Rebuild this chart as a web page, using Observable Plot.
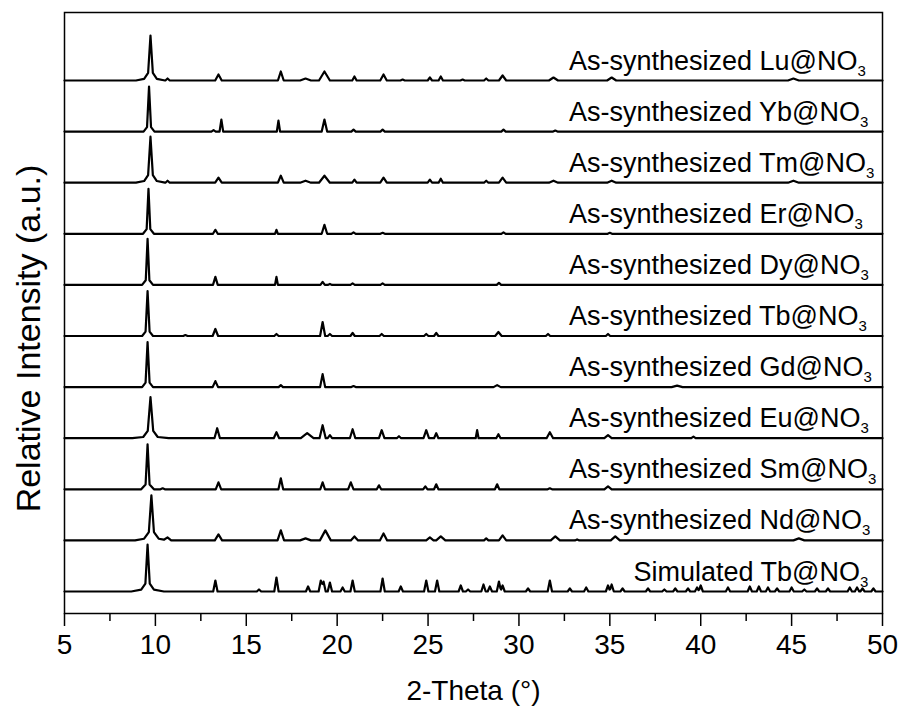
<!DOCTYPE html>
<html><head><meta charset="utf-8">
<script src="https://cdn.jsdelivr.net/npm/d3@7"></script>
<script src="https://cdn.jsdelivr.net/npm/@observablehq/plot@0.6"></script>
<style>body{margin:0;background:#fff}</style>
</head><body><div id="chart"></div>
<script>
// 2-Theta tick values
const majorTicks = [5,10,15,20,25,30,35,40,45,50];
const minorTicks = [7.5,12.5,17.5,22.5,27.5,32.5,37.5,42.5,47.5];

// sample names, bottom to top
const sampleNames = [
  "Simulated Tb@NO", "As-synthesized Nd@NO", "As-synthesized Sm@NO", "As-synthesized Eu@NO",
  "As-synthesized Gd@NO", "As-synthesized Tb@NO", "As-synthesized Dy@NO", "As-synthesized Er@NO",
  "As-synthesized Tm@NO", "As-synthesized Yb@NO", "As-synthesized Lu@NO"
];

// peaks: [2theta, relative height, half width]
const peaksSim = [[9.57,36,0.12],[9.57,8,0.35],[9.57,3,0.9],[13.3,11],[15.7,2],[16.66,14],[18.4,5],[19.1,11],[19.25,10],[19.6,9],[20.3,4],[20.85,11],[22.5,13],[23.5,5],[24.9,11],[25.5,11],[26.8,6],[27.2,2],[28.05,7],[28.4,5],[28.9,10],[29.1,6],[30.5,3],[31.7,11],[32.8,3],[33.7,4],[34.9,6],[35.1,7],[35.7,3],[37.1,3],[38.0,2],[38.6,3],[39.3,3],[39.8,4],[40.0,6],[41.5,4],[42.7,5],[43.2,5],[43.7,4],[44.2,3],[45.0,4],[45.7,2],[46.4,3],[47.0,3],[48.2,4],[48.6,4],[48.9,3],[49.5,3]];
const peaksNd = [[9.78,33,0.14],[9.78,9,0.4],[9.78,3,0.9],[10.67,3,0.2],[13.47,6,0.2],[16.9,10,0.18],[18.26,2,0.3],[19.35,10,0.3],[20.95,4,0.2],[22.55,7,0.2],[25.1,3,0.2],[25.7,4,0.25],[28.2,2],[29.1,5,0.2],[32.0,4,0.25],[33.2,1],[35.3,4,0.25],[45.4,2,0.3]];
const peaksSm = [[9.57,38,0.11],[9.57,7,0.35],[10.4,1],[13.47,7,0.15],[16.9,11,0.13],[19.2,7,0.13],[20.75,7,0.15],[22.3,4],[24.85,3],[25.45,5],[28.8,5],[31.7,1],[34.9,3,0.2]];
const peaksEu = [[9.73,30,0.15],[9.73,9,0.4],[9.73,2,1.0],[13.4,10,0.15],[16.66,6,0.15],[18.35,5,0.35],[19.2,13,0.17],[19.6,3],[20.85,9,0.15],[22.45,8,0.15],[23.4,2],[24.9,8,0.15],[25.45,5],[27.7,8,0.08],[28.87,4],[31.7,6,0.18],[34.9,3,0.2],[39.6,1.5]];
const peaksGd = [[9.57,38,0.11],[9.57,7,0.3],[13.3,6,0.15],[16.9,2],[19.2,13,0.14],[20.9,1],[28.8,2,0.2],[38.7,1.5,0.3]];
const peaksTb = [[9.57,38,0.11],[9.57,7,0.3],[11.65,1],[13.3,7,0.15],[16.66,2],[19.2,14,0.14],[19.6,2],[20.85,3],[22.45,2],[24.9,2],[25.45,3],[28.87,4,0.18],[31.6,2],[34.9,2]];
const peaksDy = [[9.57,39,0.1],[9.57,7,0.3],[13.3,8,0.13],[16.66,8,0.08],[19.2,3],[19.6,1],[20.85,1.5],[22.5,1.5],[28.9,2]];
const peaksEr = [[9.62,38,0.1],[9.62,7,0.3],[13.3,4,0.13],[16.66,4,0.08],[19.3,9,0.15],[20.9,1.5],[22.5,1],[29.15,1.5],[35.0,1]];
const peaksTm = [[9.73,35,0.13],[9.73,8,0.35],[9.73,3,0.8],[10.67,2],[13.47,5,0.18],[16.9,7,0.16],[18.26,2,0.3],[19.3,7,0.3],[20.95,3],[22.55,5,0.18],[25.1,3],[25.7,4],[28.2,2],[29.1,5,0.2],[31.9,2,0.25],[35.1,2,0.25],[45.1,2,0.3]];
const peaksYb = [[9.65,38,0.11],[9.65,7,0.3],[13.2,1.5],[13.63,12,0.1],[16.77,11,0.09],[19.3,12,0.15],[20.9,2],[22.5,2],[29.15,2],[32.0,1]];
const peaksLu = [[9.73,34,0.13],[9.73,8,0.35],[9.73,3,0.8],[10.67,2],[13.47,6,0.18],[16.9,9,0.16],[18.26,2,0.3],[19.3,9,0.3],[20.95,4],[22.55,6,0.18],[23.6,1],[25.1,3],[25.7,4],[26.9,1],[28.2,2],[29.1,5,0.2],[31.9,3,0.25],[35.1,3,0.25],[45.1,2,0.3]];

const seriesPeaks = [peaksSim, peaksNd, peaksSm, peaksEu, peaksGd, peaksTb, peaksDy, peaksEr, peaksTm, peaksYb, peaksLu];

const STEP = 51.1;   // vertical stacking offset
const HW = 0.12;     // default peak half width

function profile(pk) {
  const xs = new Set([5, 50]);
  for (const [p, h, w = HW] of pk) { xs.add(p - w); xs.add(p); xs.add(p + w); }
  return [...xs].filter(x => x >= 5 && x <= 50).sort((a, b) => a - b)
    .map(x => [x, d3.sum(pk, ([p, h, w = HW]) => Math.max(0, h * (1 - Math.abs(x - p) / w)))]);
}

const rows = seriesPeaks.flatMap((pk, i) => profile(pk).map(([x, v]) => ({x, y: v + i * STEP, s: i})));
const labels = sampleNames.map((name, i) => ({name, i, y: i * STEP + 11, x: i === 0 ? 36.3 : 32.75}));

const chart = Plot.plot({
  width: 905, height: 712,
  marginLeft: 64, marginRight: 23, marginTop: 12, marginBottom: 99,
  x: {domain: [5, 50]},
  y: {domain: [-22, 579], axis: null},
  style: {fontFamily: "'Liberation Sans', Arial, sans-serif", background: "white", color: "black"},
  marks: [
    Plot.line(rows, {x: "x", y: "y", z: "s", stroke: "black", strokeWidth: 2.2}),
    Plot.frame({stroke: "black", strokeWidth: 1.5}),
    Plot.axisX({ticks: majorTicks, tickSize: 13, tickPadding: 8, fontSize: 28, label: null, strokeWidth: 1.5, tickFormat: d => d}),
    Plot.axisX({ticks: minorTicks, tickSize: 8, text: null, label: null, strokeWidth: 1.5}),
    Plot.text(labels, {x: "x", y: "y", text: "name", textAnchor: "start", lineAnchor: "bottom", fontSize: 27, fill: "black"}),
    Plot.text(["2-Theta (°)"], {frameAnchor: "bottom", dy: 86, lineAnchor: "bottom", fontSize: 28, fill: "black"}),
    Plot.text(["Relative Intensity (a.u.)"], {x: 3.05, y: 253, rotate: -90, fontSize: 34, fill: "black"})
  ]
});
document.getElementById("chart").appendChild(chart);
// subscript 3 on NO3
d3.select(chart).selectAll("text").filter(function () { return /@NO$/.test(this.textContent); }).each(function () {
  d3.select(this).append("tspan").attr("font-size", 15).attr("dy", "0.4em").text("3");
});
</script>
</body></html>
